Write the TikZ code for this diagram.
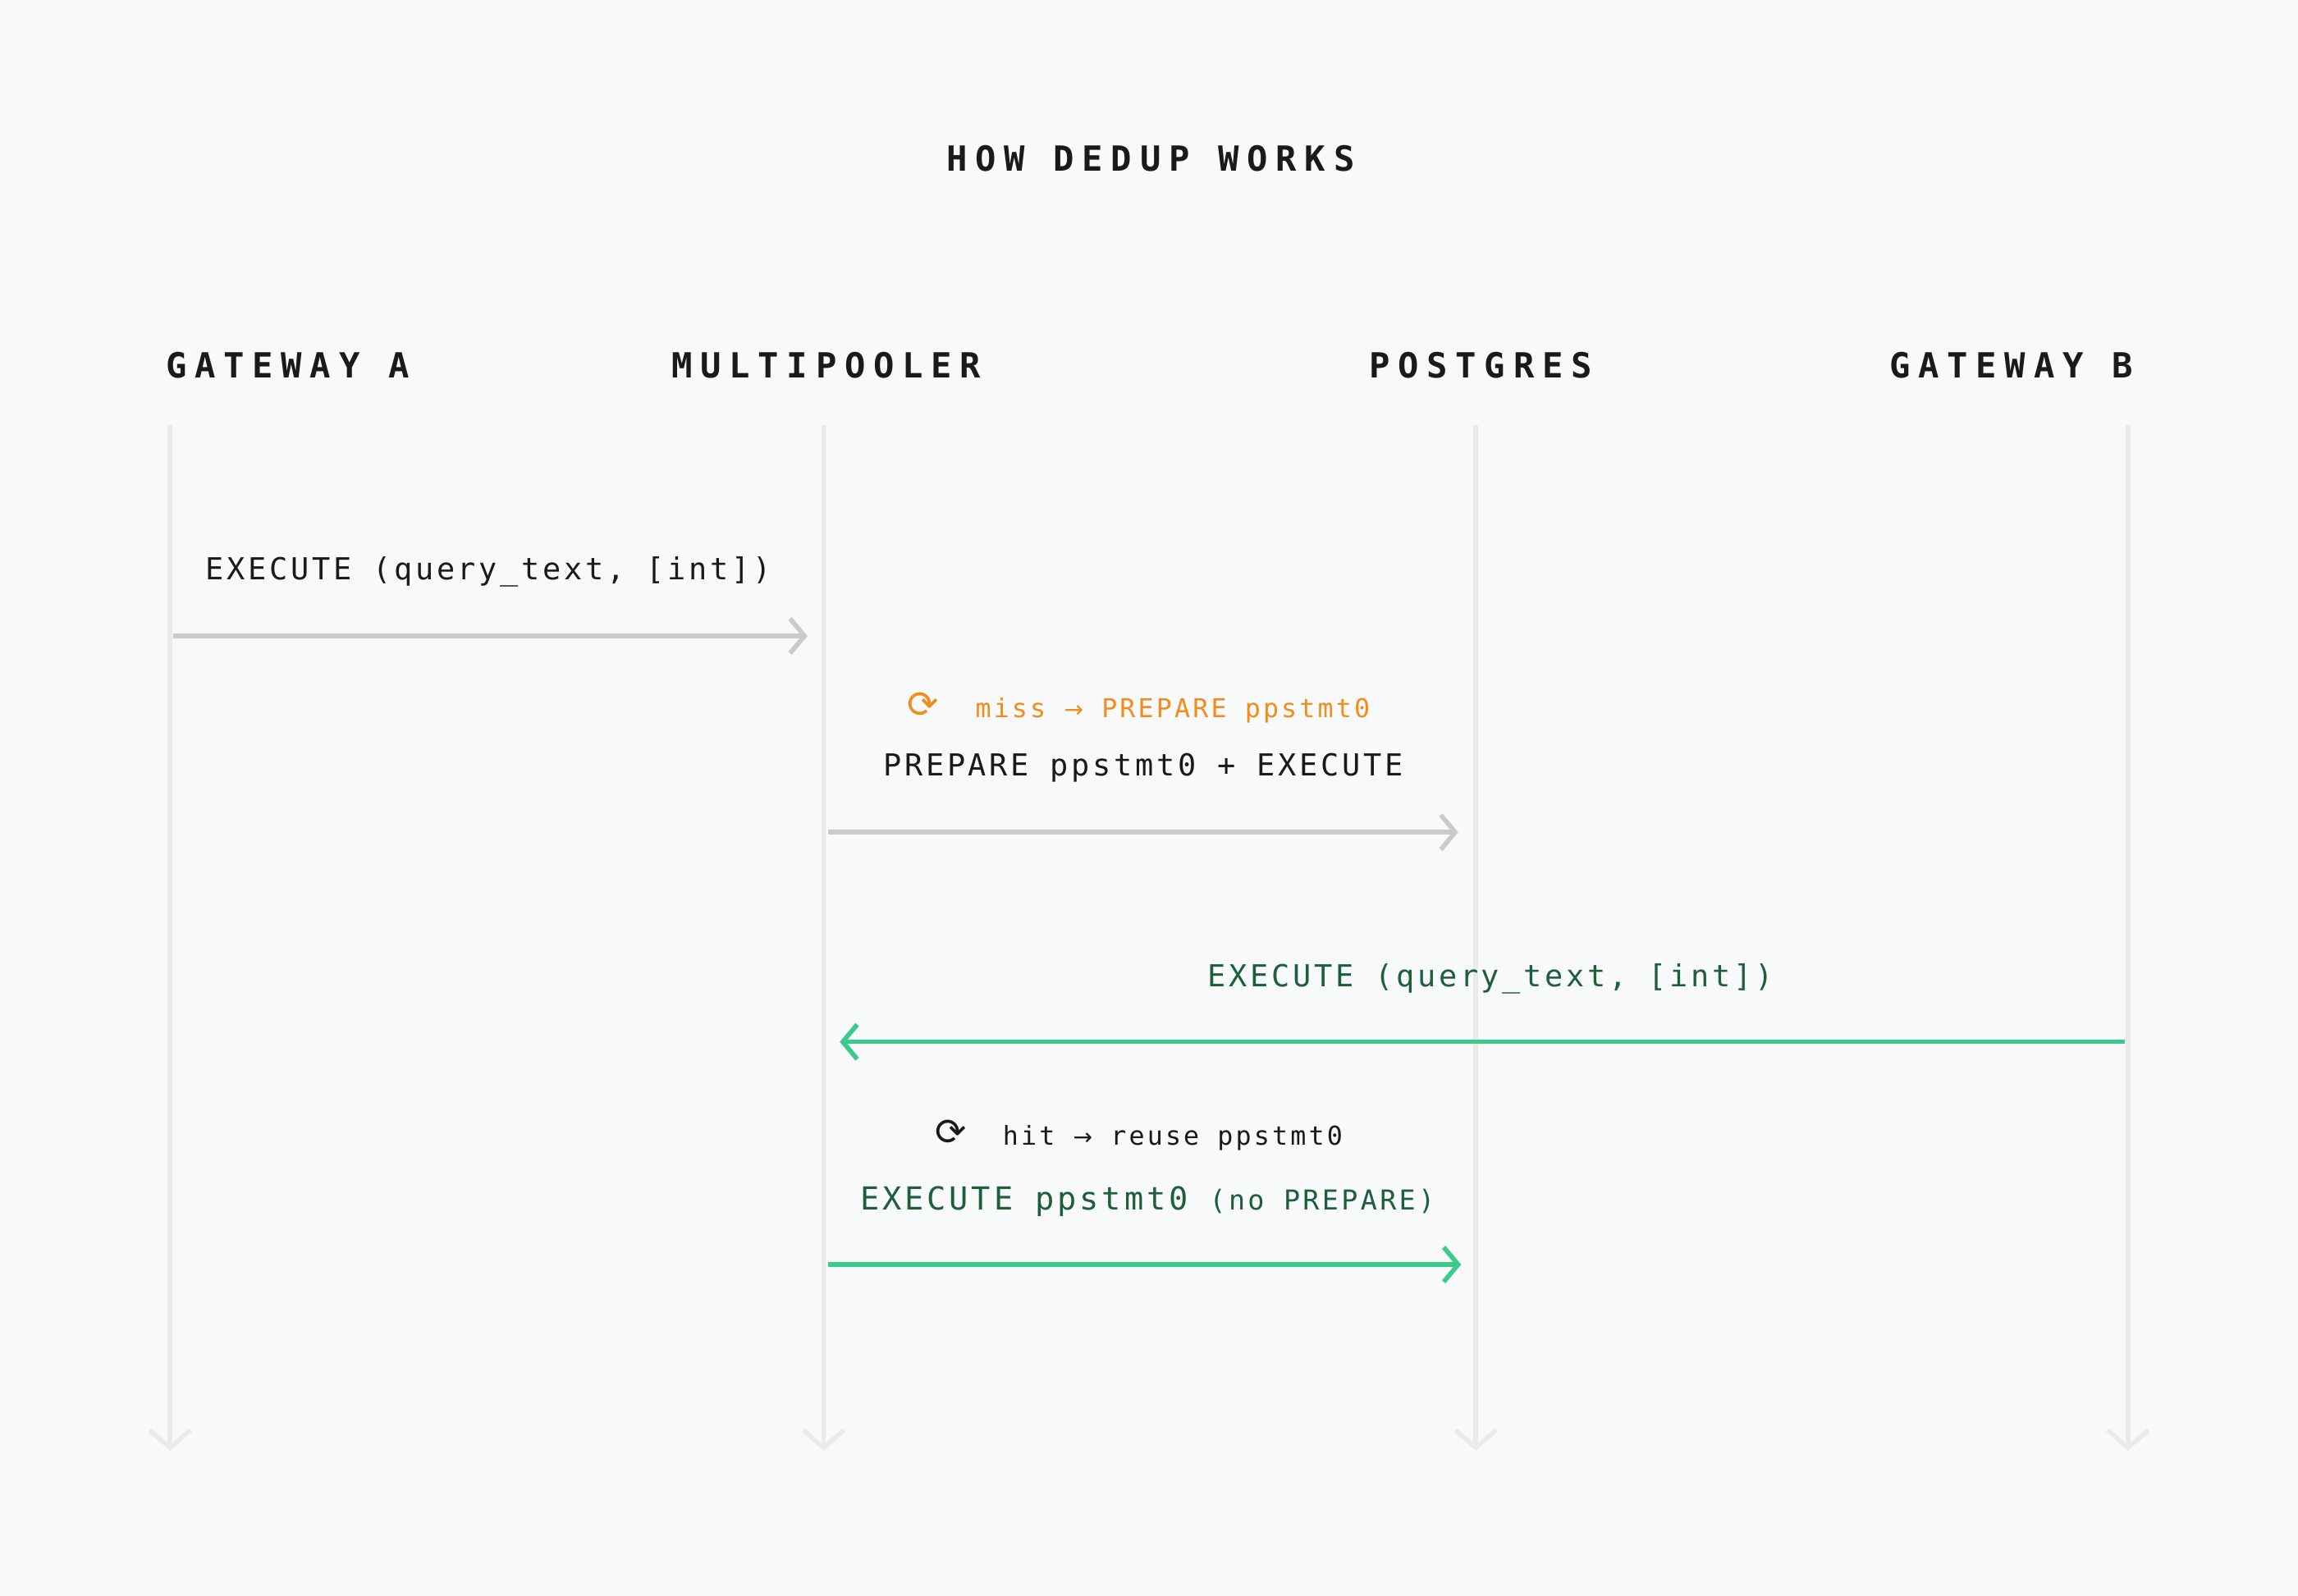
\documentclass[tikz,border=0pt]{standalone}
\usepackage{fontspec}
\setmonofont[LetterSpace=10]{DejaVu Sans Mono}
\newfontfamily\symf{DejaVu Sans}
\newfontfamily\headf[LetterSpace=23]{DejaVu Sans Mono Bold}
\usetikzlibrary{arrows.meta}
\definecolor{bg}{HTML}{F8F9FA}
\definecolor{life}{HTML}{E9EAEB}
\definecolor{garr}{HTML}{C9CACB}
\definecolor{grn}{HTML}{3CCB8A}
\definecolor{dgrn}{HTML}{1E5E3A}
\definecolor{org}{HTML}{F28C1C}
\definecolor{ink}{HTML}{1A1A1A}
\begin{document}
\begin{tikzpicture}[x=0.017857cm,y=-0.017857cm,
  lifeline/.style={draw=life,line width=1.6pt,-{Straight Barb[length=6pt,width=14pt,line width=1.6pt]}},
  msg/.style={line width=1.6pt,-{Straight Barb[length=5pt,width=12pt,line width=1.6pt]}},
  head/.style={font=\headf\fontsize{12}{14}\selectfont,text=ink,inner sep=0pt},
  lbl/.style={font=\ttfamily\fontsize{10.5}{12}\selectfont,text=ink,inner sep=0pt},
  sml/.style={font=\ttfamily\fontsize{9}{11}\selectfont,inner sep=0pt}]
\fill[bg] (0,0) rectangle (1568,1089);
\useasboundingbox (0,0) rectangle (1568,1089);
\node[head] (title) at (785,108) {HOW DEDUP WORKS};
\node[head,anchor=west] (hA) at (113,249) {GATEWAY A};
\node[head,anchor=west] (hM) at (458,249) {MULTIPOOLER};
\node[head,anchor=west] (hP) at (934,249) {POSTGRES};
\node[head,anchor=west] (hB) at (1289,249) {GATEWAY B};
\foreach \n/\x in {A/116,M/562,P/1007,B/1452}{
  \coordinate (t\n) at (\x,290);
  \coordinate (b\n) at (\x,990);
  \draw[lifeline] (t\n) -- (b\n);
}
\coordinate (a1s) at (118,434); \coordinate (a1e) at (551,434);
\coordinate (a2s) at (565,568); \coordinate (a2e) at (995,568);
\coordinate (a3s) at (1450,711); \coordinate (a3e) at (573,711);
\coordinate (a4s) at (565,863); \coordinate (a4e) at (997,863);
\draw[msg,garr] (a1s) -- (a1e);
\draw[msg,garr] (a2s) -- (a2e);
\draw[msg,grn] (a3s) -- (a3e);
\draw[msg,grn] (a4s) -- (a4e);
\node[lbl,anchor=west] (l1) at (140,390) {EXECUTE (query\_text, [int])};
\node[sml,text=org] (l2) at (777,483) {{\symf\fontsize{13}{14}\selectfont ⟳}\ \ miss {\symf\fontsize{8}{10}\selectfont →} PREPARE ppstmt0};
\node[lbl] (l3) at (780,524) {PREPARE ppstmt0 + EXECUTE};
\node[lbl,text=dgrn] (l4) at (1017,668) {EXECUTE (query\_text, [int])};
\node[sml,text=ink] (l5) at (777,775) {{\symf\fontsize{13}{14}\selectfont ⟳}\ \ hit {\symf\fontsize{8}{10}\selectfont →} reuse ppstmt0};
\node[lbl,text=dgrn] (l6) at (783,820) {{\fontsize{11}{12}\selectfont EXECUTE ppstmt0} {\fontsize{9.5}{11}\selectfont (no PREPARE)}};
\end{tikzpicture}
\end{document}
